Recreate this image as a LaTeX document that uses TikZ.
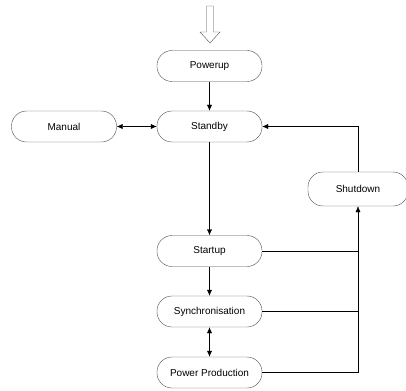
\documentclass[tikz,border=0pt]{standalone}
\usepackage{fontspec}
\setmainfont{Liberation Sans}
\usetikzlibrary{arrows.meta}

\begin{document}
\begin{tikzpicture}[
    x=1pt, y=-1pt,
    state/.style={
        draw=black!70,
        rectangle,
        rounded corners=15pt,
        minimum width=105pt,
        minimum height=31pt,
        font=\fontsize{10}{12}\selectfont,
        },
    link/.style={-{Latex[length=6pt,width=5pt]}},
    twoway/.style={{Latex[length=6pt,width=5pt]}-{Latex[length=6pt,width=5pt]}},
]
\useasboundingbox (0,0) rectangle (406,390);

% entry arrow
\draw[black!70] (206.5,6) -- (213.5,6) -- (213.5,32) -- (220,32) -- (210,43)
    -- (200,32) -- (206.5,32) -- cycle;

\node[state] (powerup) at (209.5,66) {Powerup};
\node[state] (standby) at (209.5,126.5) {Standby};
\node[state] (manual) at (64,126.5) {Manual};
\node[state, minimum width=100pt, minimum height=34pt] (shutdown) at (358,189) {Shutdown};
\node[state] (startup) at (209.5,251) {Startup};
\node[state] (sync) at (209.5,311.5) {Synchronisation};
\node[state] (power) at (209.5,372.5) {Power Production};

\draw[link] (powerup) -- (standby);
\draw[twoway] (manual) -- (standby);
\draw[link] (standby) -- (startup);
\draw[link] (startup) -- (sync);
\draw[twoway] (sync) -- (power);

% back to standby
\draw[link] (shutdown.north) |- (standby);
\draw (startup.east) -- (startup.east -| shutdown.south);
\draw (sync.east) -- (sync.east -| shutdown.south);
\draw[link] (power.east) -| (shutdown.south);

\end{tikzpicture}
\end{document}
